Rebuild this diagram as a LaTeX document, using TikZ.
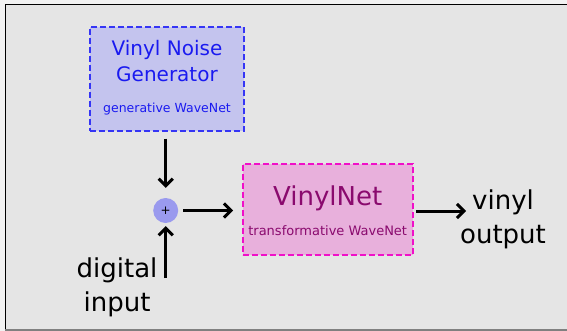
\documentclass[tikz,border=0pt]{standalone}
\usepackage{fontspec}
\setmainfont{DejaVu Sans}
\usetikzlibrary{arrows.meta}
\definecolor{bggray}{HTML}{E5E5E5}
\definecolor{noisefill}{HTML}{C4C4EE}
\definecolor{noiseline}{HTML}{3535F5}
\definecolor{noisetext}{HTML}{1A1AF0}
\definecolor{netfill}{HTML}{E8B0DC}
\definecolor{netline}{HTML}{F010C8}
\definecolor{nettext}{HTML}{8A0A6E}
\definecolor{sumfill}{HTML}{9A9AEE}

\begin{document}
\begin{tikzpicture}[x=1pt,y=-1pt,
		noisebox/.style={draw=noiseline,fill=noisefill,dash pattern=on 6pt off 3pt,line width=1.8pt,minimum width=154pt,minimum height=104pt,inner sep=0pt},
		netbox/.style={draw=netline,fill=netfill,dash pattern=on 6pt off 3pt,line width=1.8pt,minimum width=170pt,minimum height=91pt,inner sep=0pt},
		flow/.style={line width=3pt,-{Straight Barb[length=7pt,width=14pt]}},
		bigtext/.style={font=\fontsize{26}{34}\selectfont,align=center,inner sep=0pt}]
		\clip (0,0) rectangle (567,331);
		% background and frame
		\fill [white!95!black] (-2,-2) rectangle (570,334);
		\fill [bggray] (5,4) rectangle (570,329);
		\draw [line width=1.3pt] (5.5,334) -- (5.5,4.5) -- (570,4.5);
		\fill [gray] (5,329) rectangle (570,334);
		
		% vinyl noise generator
		\node [noisebox] (noise) at (167,78.7) {};
		\node [text=noisetext,font=\fontsize{20}{26}\selectfont,align=center,inner sep=0pt,anchor=base] (noisename) at (167,81.7) {Vinyl Noise\\Generator};
		\node [text=noisetext,font=\fontsize{12.5}{15}\selectfont,inner sep=0pt,anchor=base] (noisesub) at (167,112.7) {generative WaveNet};
		
		% vinylnet
		\node [netbox] (net) at (327.7,209.5) {};
		\node [text=nettext,font=\fontsize{26}{30}\selectfont,inner sep=0pt,anchor=base] (netname) at (327.7,205) {VinylNet};
		\node [text=nettext,font=\fontsize{13}{15}\selectfont,inner sep=0pt,anchor=base] (netsub) at (327.7,235) {transformative WaveNet};
		
		% adder
		\node [circle,fill=sumfill,minimum size=25pt,inner sep=0pt,font=\fontsize{12}{12}\selectfont] (sum) at (165.7,210.5) {+};
		
		% input and output
		\node [bigtext,anchor=base] (digin) at (117,311.7) {digital\\input};
		\node [bigtext,anchor=base] (vinout) at (503,243.3) {vinyl\\output};
		\coordinate (infoot) at (165.7,278);
		\coordinate (outtip) at (466,211);
		
		\draw [flow,shorten <=7pt,shorten >=10pt] (noise.south -| sum) -- (sum.north);
		\draw [flow,shorten >=3pt] (infoot) -- (sum.south);
		\draw [flow,shorten <=5pt,shorten >=8.7pt] (sum.east) -- (net.west |- sum);
		\draw [flow,shorten <=2.3pt] (net.east |- outtip) -- (outtip);
	
	\end{tikzpicture}
\end{document}
